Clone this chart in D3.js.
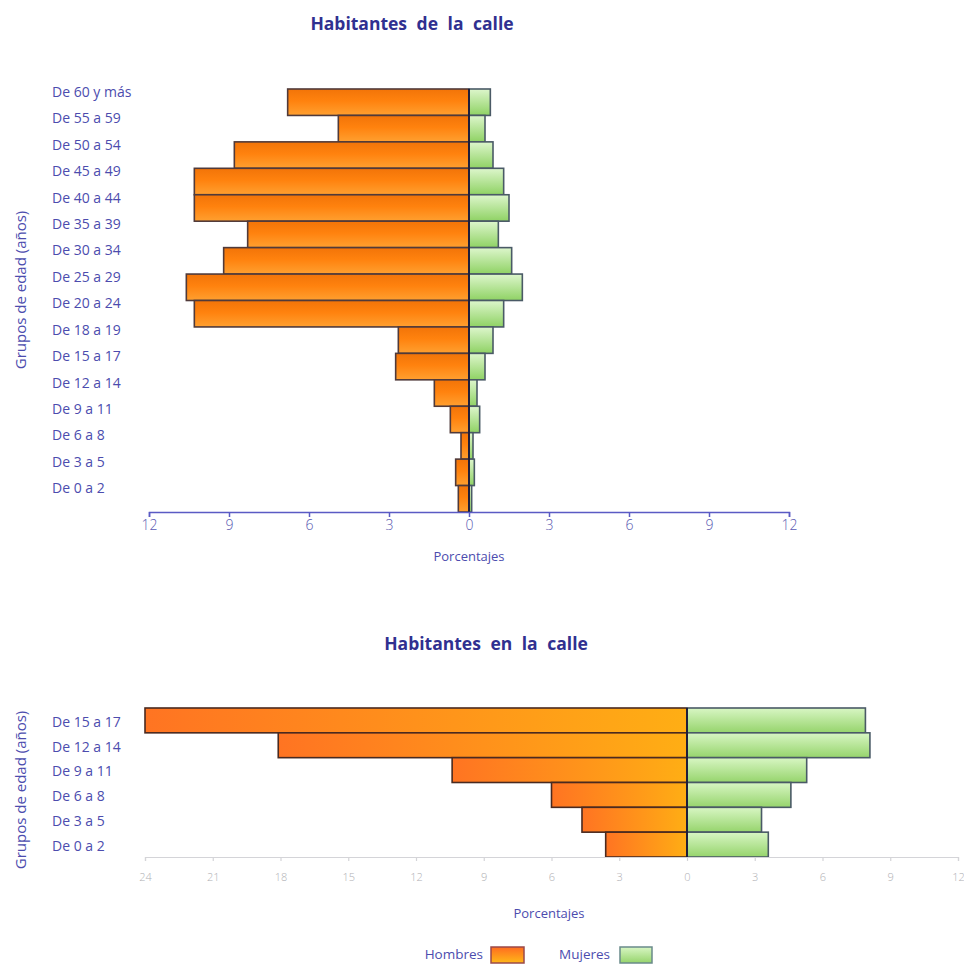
<!DOCTYPE html>
<html><head><meta charset="utf-8">
<script src="https://cdn.jsdelivr.net/npm/d3@7"></script>
<style>
body{margin:0;background:#fff;}
svg{display:block;font-family:"Open Sans",sans-serif;}
</style></head>
<body><svg id="c" width="964" height="964"></svg>
<script>
const groupsTop = ["De 60 y más","De 55 a 59","De 50 a 54","De 45 a 49","De 40 a 44","De 35 a 39","De 30 a 34","De 25 a 29","De 20 a 24","De 18 a 19","De 15 a 17","De 12 a 14","De 9 a 11","De 6 a 8","De 3 a 5","De 0 a 2"];
const hombresTop = [6.8,4.9,8.8,10.3,10.3,8.3,9.2,10.6,10.3,2.65,2.75,1.3,0.7,0.3,0.5,0.4];
const mujeresTop = [0.8,0.6,0.9,1.3,1.5,1.1,1.6,2.0,1.3,0.9,0.6,0.3,0.4,0.15,0.2,0.1];
const ticksTop = [-12,-9,-6,-3,0,3,6,9,12];

const groupsBottom = ["De 15 a 17","De 12 a 14","De 9 a 11","De 6 a 8","De 3 a 5","De 0 a 2"];
const hombresBottom = [24.0,18.1,10.4,6.0,4.65,3.6];
const mujeresBottom = [7.9,8.1,5.3,4.6,3.3,3.6];
const ticksBottom = [-24,-21,-18,-15,-12,-9,-6,-3,0,3,6,9,12];

const titleTop = "Habitantes de la calle";
const titleBottom = "Habitantes en la calle";
const yTitle = "Grupos de edad (años)";
const xTitle = "Porcentajes";
const legendLabels = ["Hombres","Mujeres"];

const svg = d3.select("#c");
const txt = "#4c4cae";
const defs = svg.append("defs");
function lg(id, stops, x2, y2){
  const g = defs.append("linearGradient").attr("id",id).attr("x1",0).attr("y1",0).attr("x2",x2).attr("y2",y2);
  stops.forEach(s=>g.append("stop").attr("offset",s[0]).attr("stop-color",s[1]));
}
lg("orTop",[[0,"#f27408"],[0.45,"#ff820e"],[1,"#ffa030"]],0,1);
lg("orBot",[[0,"#ff7422"],[1,"#ffae14"]],1,0);
lg("grTop",[[0,"#ddf6cc"],[1,"#8fd264"]],0,1);
lg("grBot",[[0,"#d8f6c4"],[1,"#96d46c"]],0,1);
lg("orLeg",[[0,"#ff6c20"],[1,"#ffb818"]],0,1);

function pyramid(cfg){
  const x = d3.scaleLinear().domain(cfg.domain).range(cfg.xr);
  const y = d3.scaleBand().domain(cfg.groups).range(cfg.yr);
  const g = svg.append("g");
  g.selectAll(".h").data(cfg.groups).join("rect")
    .attr("x", (d,i)=>x(-cfg.h[i])).attr("y", d=>y(d))
    .attr("width",(d,i)=>x(0)-x(-cfg.h[i])).attr("height",y.bandwidth())
    .attr("fill",`url(#${cfg.orFill})`).attr("stroke",cfg.orStroke).attr("stroke-width",1.6);
  g.selectAll(".m").data(cfg.groups).join("rect")
    .attr("x", x(0)).attr("y", d=>y(d))
    .attr("width",(d,i)=>x(cfg.m[i])-x(0)).attr("height",y.bandwidth())
    .attr("fill",`url(#${cfg.grFill})`).attr("stroke","#4a5a66").attr("stroke-width",1.6);
  g.append("line").attr("x1",x(0)).attr("x2",x(0)).attr("y1",cfg.yr[0]).attr("y2",cfg.yr[1])
    .attr("stroke","#1e1e3c").attr("stroke-width",2);
  const ax = d3.axisBottom(x).tickValues(cfg.ticks).tickFormat(d=>Math.abs(d)).tickSizeOuter(0).tickSize(cfg.tickSize).tickPadding(cfg.tickPad);
  const ag = svg.append("g").attr("transform",`translate(0,${cfg.yr[1]})`).call(ax);
  ag.select(".domain").attr("stroke",cfg.axisColor).attr("stroke-width",cfg.axisW);
  ag.selectAll(".tick line").attr("stroke",cfg.axisColor).attr("stroke-width",cfg.axisW);
  ag.selectAll(".tick text").attr("fill",cfg.tickColor).style("font-size",cfg.tickFont+"px")
    .style("font-family","'Open Sans',sans-serif").style("font-weight",300);
  svg.append("g").selectAll("text").data(cfg.groups).join("text")
    .attr("x",52).attr("y",d=>y(d)+cfg.labOff).attr("dominant-baseline","middle")
    .attr("fill",txt).style("font-size","14px").text(d=>d);
  svg.append("text").attr("x",cfg.titleX).attr("y",cfg.titleY).attr("text-anchor","middle")
    .attr("fill","#303090").style("font-size","17.5px").style("font-weight","bold")
    .style("word-spacing","5px").text(cfg.title);
  svg.append("text").attr("transform",`translate(26,${cfg.yTitleY}) rotate(-90)`).attr("text-anchor","middle")
    .attr("fill",txt).style("font-size","15px").text(yTitle);
  svg.append("text").attr("x",cfg.xTitleX).attr("y",cfg.xTitleY).attr("text-anchor","middle")
    .attr("fill",txt).style("font-size","13px").text(xTitle);
}

pyramid({domain:[-12,12], xr:[149,789], groups:groupsTop, yr:[89,512], h:hombresTop, m:mujeresTop,
  orFill:"orTop", orStroke:"#503a3a", grFill:"grTop", ticks:ticksTop, tickSize:5, tickPad:3,
  axisColor:"#5a5ac4", axisW:1.5, tickColor:"#5a5ab2", tickFont:14, labOff:4,
  title:titleTop, titleX:412, titleY:30, yTitleY:290, xTitleX:469, xTitleY:561});

pyramid({domain:[-24,12], xr:[145,958], groups:groupsBottom, yr:[708,857], h:hombresBottom, m:mujeresBottom,
  orFill:"orBot", orStroke:"#4a2a20", grFill:"grBot", ticks:ticksBottom, tickSize:4, tickPad:12,
  axisColor:"#d4d4d8", axisW:1.2, tickColor:"#b0b0b4", tickFont:11, labOff:15,
  title:titleBottom, titleX:486, titleY:650, yTitleY:790, xTitleX:549, xTitleY:918});

const leg = svg.append("g");
leg.append("text").attr("x",483).attr("y",959).attr("text-anchor","end").attr("fill",txt).style("font-size","13.5px").text(legendLabels[0]);
leg.append("rect").attr("x",491).attr("y",947).attr("width",33).attr("height",16).attr("fill","url(#orLeg)").attr("stroke","#9a4a4a").attr("stroke-width",1.5);
leg.append("text").attr("x",610).attr("y",959).attr("text-anchor","end").attr("fill",txt).style("font-size","13.5px").text(legendLabels[1]);
leg.append("rect").attr("x",620).attr("y",947).attr("width",32).attr("height",16).attr("fill","url(#grBot)").attr("stroke","#6a8a8a").attr("stroke-width",1.5);
</script></body></html>
